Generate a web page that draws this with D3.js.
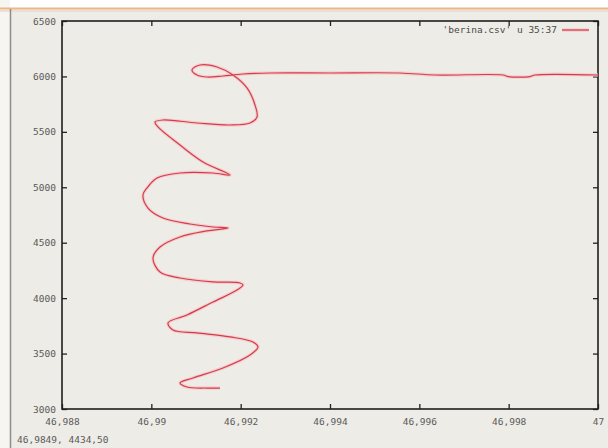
<!DOCTYPE html>
<html>
<head>
<meta charset="utf-8">
<script src="https://cdn.jsdelivr.net/npm/d3@7"></script>
<style>
  html, body { margin: 0; padding: 0; background: #eeece7; }
  svg { display: block; }
  text { font-family: "DejaVu Sans Mono", monospace; }
</style>
</head>
<body>
<svg id="chart" width="608" height="448"></svg>
<script>
// Column 35 (x) against column 37 (y) of berina.csv
const colX = [
  46.991537, 46.991246, 46.990799, 46.990642, 46.990933, 46.991604, 46.992209, 46.992388,
  46.992276, 46.991761, 46.991022, 46.990485, 46.990373, 46.990799, 46.991381, 46.991918,
  46.992052, 46.991985, 46.991381, 46.990642, 46.990194, 46.990037, 46.990194, 46.990642,
  46.991246, 46.991716, 46.991381, 46.990866, 46.990261, 46.989925, 46.989813, 46.989903,
  46.990127, 46.990642, 46.991381, 46.991761, 46.991157, 46.990642, 46.990149, 46.990082,
  46.990261, 46.991022, 46.991761, 46.992209, 46.992366, 46.992321, 46.992142, 46.991828,
  46.991470, 46.991090, 46.990910, 46.991022, 46.991246, 46.991604, 46.992052, 46.992657,
  46.994000, 46.995567, 46.996351, 46.997873, 46.997985, 46.998478, 46.998590, 47.000000
];
const colY = [
  3189, 3189, 3198, 3235, 3280, 3370, 3487, 3559,
  3604, 3650, 3686, 3713, 3776, 3848, 3965, 4073,
  4119, 4137, 4146, 4182, 4236, 4362, 4461, 4552,
  4606, 4633, 4642, 4669, 4723, 4813, 4930, 4994,
  5084, 5129, 5129, 5111, 5228, 5381, 5544, 5589,
  5607, 5580, 5562, 5580, 5634, 5742, 5896, 6013,
  6085, 6103, 6058, 6013, 5995, 6004, 6022, 6031,
  6031, 6031, 6013, 6013, 5999, 5999, 6013, 6013
];

const xTickValues = [46.988, 46.99, 46.992, 46.994, 46.996, 46.998, 47];
const xTickLabels = ["46,988", "46,99", "46,992", "46,994", "46,996", "46,998", "47"];
const yTickValues = [3000, 3500, 4000, 4500, 5000, 5500, 6000, 6500];
const yTickLabels = ["3000", "3500", "4000", "4500", "5000", "5500", "6000", "6500"];

const legendLabel = "'berina.csv' u 35:37";
const mouseLabel = "46,9849,  4434,50";

const W = 608, H = 448;
const plot = { left: 62, right: 598, top: 21, bottom: 409 };
const lineColor = "#d63b48";

const svg = d3.select("#chart");

// window chrome
svg.append("rect").attr("x", 0).attr("y", 0).attr("width", W).attr("height", H).attr("fill", "#eeece7");
svg.append("rect").attr("x", 0).attr("y", 0).attr("width", W).attr("height", 8).attr("fill", "#ffffff");
svg.append("rect").attr("x", 0).attr("y", 0).attr("width", 10).attr("height", H).attr("fill", "#f6f5f2");
svg.append("line").attr("x1", 0).attr("x2", W).attr("y1", 8.5).attr("y2", 8.5)
  .attr("stroke", "#e8b985").attr("stroke-width", 2);
svg.append("line").attr("x1", 0).attr("x2", W).attr("y1", 11).attr("y2", 11)
  .attr("stroke", "#efdcd6").attr("stroke-width", 2);
svg.append("line").attr("x1", 10.5).attr("x2", 10.5).attr("y1", 9).attr("y2", H)
  .attr("stroke", "#8e8d8a").attr("stroke-width", 1.5);

const x = d3.scaleLinear().domain([46.988, 47]).range([plot.left, plot.right]);
const y = d3.scaleLinear().domain([3000, 6500]).range([plot.bottom, plot.top]);

function styleAxis(g, showText) {
  g.select(".domain").remove();
  g.selectAll(".tick line").attr("stroke", "#222").attr("stroke-width", 1.3);
  g.selectAll(".tick text")
    .attr("fill", "#5a5a5a")
    .style("font-size", "9.5px")
    .style("font-family", "'DejaVu Sans Mono', monospace")
    .attr("opacity", showText ? 1 : 0);
}

// bottom axis with labels, inward ticks
svg.append("g")
  .attr("transform", `translate(0,${plot.bottom})`)
  .call(d3.axisBottom(x).tickValues(xTickValues)
    .tickFormat((d, i) => xTickLabels[i]).tickSize(-5).tickPadding(9))
  .call(g => styleAxis(g, true));

// left axis with labels, inward ticks
svg.append("g")
  .attr("transform", `translate(${plot.left},0)`)
  .call(d3.axisLeft(y).tickValues(yTickValues)
    .tickFormat((d, i) => yTickLabels[i]).tickSize(-5).tickPadding(6))
  .call(g => styleAxis(g, true));

// mirrored ticks on top and right
svg.append("g")
  .attr("transform", `translate(0,${plot.top})`)
  .call(d3.axisTop(x).tickValues(xTickValues).tickFormat("").tickSize(-5))
  .call(g => styleAxis(g, false));
svg.append("g")
  .attr("transform", `translate(${plot.right},0)`)
  .call(d3.axisRight(y).tickValues(yTickValues).tickFormat("").tickSize(-5))
  .call(g => styleAxis(g, false));

// plot border
svg.append("rect")
  .attr("x", plot.left).attr("y", plot.top)
  .attr("width", plot.right - plot.left).attr("height", plot.bottom - plot.top)
  .attr("fill", "none").attr("stroke", "#1e1e1e").attr("stroke-width", 1.6);

// data curve
const pts = colX.map((v, i) => [v, colY[i]]);
const line = d3.line()
  .x(d => x(d[0]))
  .y(d => y(d[1]))
  .curve(d3.curveCatmullRom.alpha(0.5));

svg.append("path").datum(pts)
  .attr("d", line).attr("fill", "none")
  .attr("stroke", "#f3c3c8").attr("stroke-width", 3.5).attr("stroke-opacity", 0.7)
  .attr("stroke-linejoin", "round");
svg.append("path").datum(pts)
  .attr("d", line).attr("fill", "none")
  .attr("stroke", lineColor).attr("stroke-width", 1.2)
  .attr("stroke-linejoin", "round");

// key
const key = svg.append("g");
key.append("text")
  .attr("x", 557).attr("y", 30).attr("dy", "0.35em")
  .attr("text-anchor", "end")
  .attr("fill", "#4a4a4a").style("font-size", "9.5px")
  .text(legendLabel);
key.append("line")
  .attr("x1", 562).attr("x2", 589).attr("y1", 30).attr("y2", 30)
  .attr("stroke", "#f3c3c8").attr("stroke-width", 3.5).attr("stroke-opacity", 0.7);
key.append("line")
  .attr("x1", 562).attr("x2", 589).attr("y1", 30).attr("y2", 30)
  .attr("stroke", lineColor).attr("stroke-width", 1.3);

// mouse position readout
svg.append("text")
  .attr("x", 17).attr("y", 440).attr("dy", "0.35em")
  .attr("fill", "#5a5a5a").style("font-size", "9.5px")
  .text(mouseLabel);
</script>
</body>
</html>
